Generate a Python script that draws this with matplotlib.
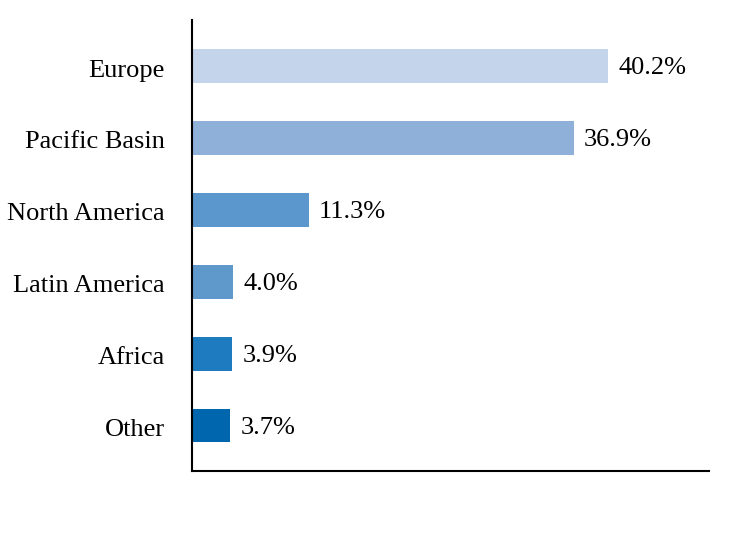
import matplotlib
matplotlib.use("Agg")
from matplotlib import pyplot as plt
from matplotlib import transforms

regions = ["Europe", "Pacific Basin", "North America", "Latin America", "Africa", "Other"]
shares = [40.2, 36.9, 11.3, 4.0, 3.9, 3.7]
colors = ["#c3d4eb", "#8eb0d9", "#5b97cc", "#5f98cb", "#1f7bbf", "#0066ad"]

plt.rcParams['font.family'] = ['Liberation Serif', 'DejaVu Serif']

fig = plt.figure(figsize=(7.44, 5.4), dpi=100)
ax = fig.add_axes([0.258, 0.128, 0.695, 0.835])

pos = list(range(len(regions)))[::-1]
ax.barh(pos, shares, height=0.47, color=colors)
for p, v in zip(pos, shares):
    ax.text(v + 1.0, p - 0.03, f"{v:.1f}%", va='center', ha='left', fontsize=19)

ax.set_yticks(pos)
ax.set_yticklabels(regions, fontsize=19)
ax.tick_params(axis='y', length=0, pad=19.5)
# nudge the category labels down a touch
shift = transforms.ScaledTranslation(0, -0.02, fig.dpi_scale_trans)
for lbl in ax.get_yticklabels():
    lbl.set_transform(lbl.get_transform() + shift)
ax.set_xticks([])
ax.set_xlim(0, 50)
ax.set_ylim(-0.63, 5.64)
for s in ['top', 'right']:
    ax.spines[s].set_visible(False)
ax.spines['left'].set_linewidth(1.5)
ax.spines['bottom'].set_linewidth(1.5)

fig.savefig("out.png", dpi=100)
